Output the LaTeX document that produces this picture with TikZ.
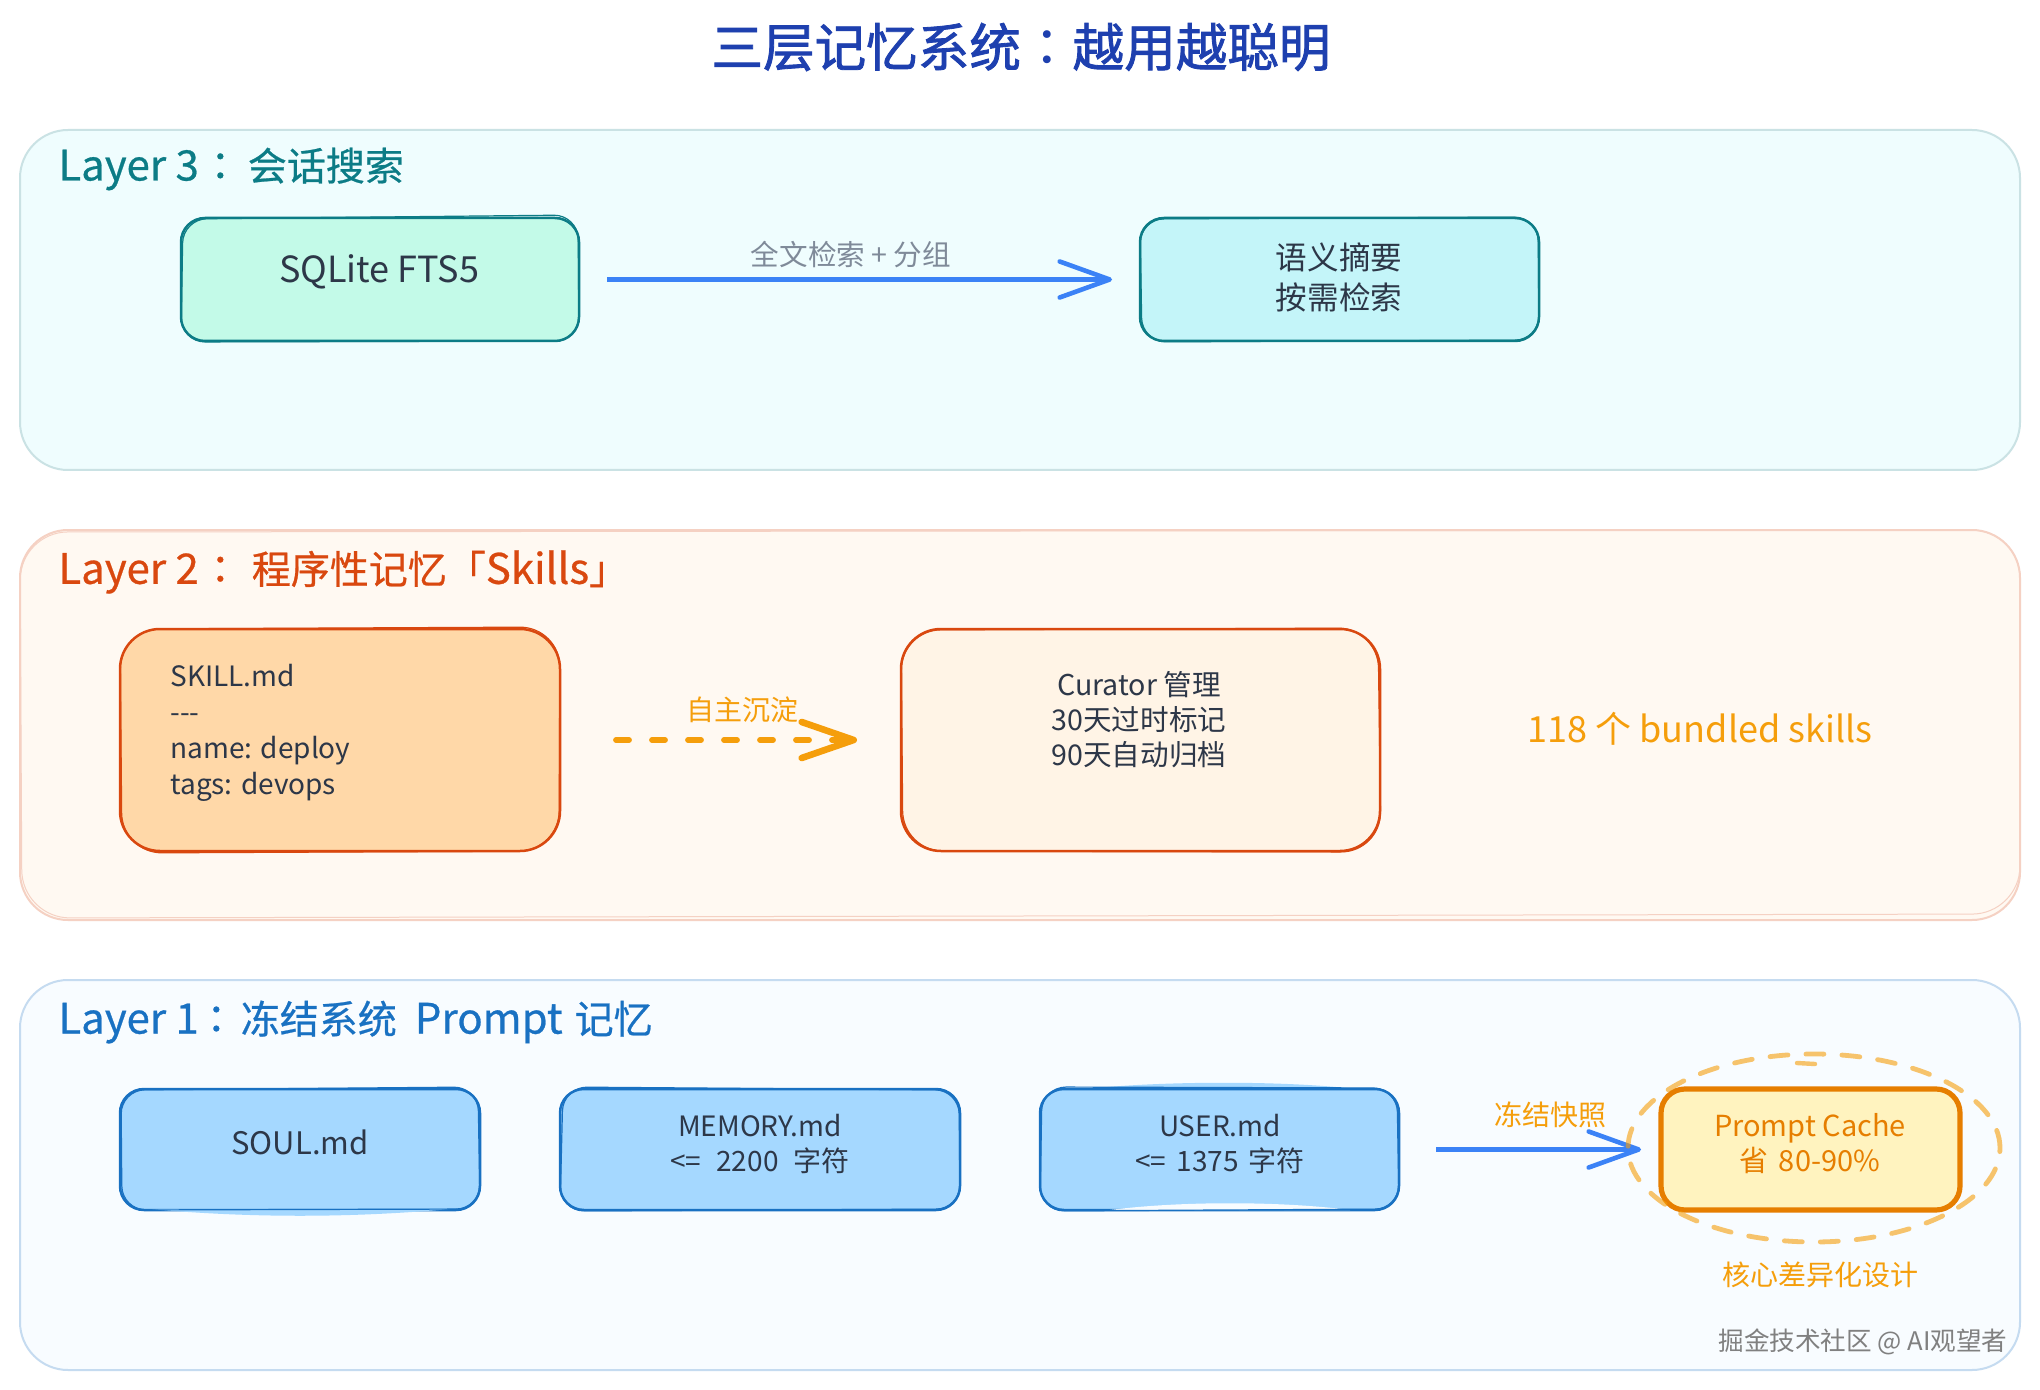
\documentclass[tikz,border=0pt]{standalone}
\usepackage{fontspec}
\usetikzlibrary{arrows.meta,shapes.geometric}
\newfontfamily\cjk{Noto Sans CJK SC}
\newfontfamily\cjkfb[FakeBold=1.6]{Noto Sans CJK SC}
\newfontfamily\cjkhd[FakeBold=0.6]{Noto Sans CJK SC}
\newfontfamily\cjktc{Noto Sans CJK TC}
\newfontfamily\cjktchd[FakeBold=0.6]{Noto Sans CJK TC}
\newcommand\hcln{{\cjktchd ：}}
\newcommand\lat[1]{{\fontsize{21}{23}\selectfont #1}}
\definecolor{ink}{HTML}{2D3748}
\definecolor{titleC}{HTML}{1E40AF}
\definecolor{tealS}{HTML}{0C7C86}
\definecolor{orgS}{HTML}{D9480F}
\definecolor{bluS}{HTML}{1971C2}
\definecolor{arrB}{HTML}{3B82F6}
\definecolor{amb}{HTML}{F59E0B}
\definecolor{pcS}{HTML}{E67E00}
\definecolor{skyF}{HTML}{A5D8FF}
\definecolor{mintF}{HTML}{C3FAE8}
\definecolor{cyanF}{HTML}{C4F5F9}
\definecolor{peachF}{HTML}{FFD8A8}
\definecolor{creamF}{HTML}{FFF4E6}
\definecolor{pcF}{HTML}{FFF3BF}
\definecolor{p3F}{HTML}{EFFDFE}
\definecolor{p2F}{HTML}{FFF9F2}
\definecolor{p1F}{HTML}{F8FCFF}
\definecolor{labG}{HTML}{7F8A99}
\definecolor{wmG}{HTML}{808080}
\tikzset{
  x=0.5pt,y=-0.5pt,
  panel/.style={rounded corners=24pt,line width=1pt,inner sep=0,outer sep=0},
  box/.style={rectangle,rounded corners=12pt,line width=1.25pt,inner sep=0,outer sep=0},
  bigbox/.style={box,rounded corners=20pt},
  edge2/.style={rounded corners=12pt,line width=.6pt},
  body/.style={font=\cjk\fontsize{14}{17.5}\selectfont,text=ink,align=center,inner sep=0},
  head/.style={font=\cjkhd\fontsize{19.5}{23}\selectfont,anchor=west,inner sep=0},
  lab/.style={font=\cjk\fontsize{14}{17}\selectfont,inner sep=0},
  shaft/.style={line width=2.7pt,arrB},
  flow/.style={shaft,-{Straight Barb[length=25pt,width=18pt,line width=2.3pt,round]}},
  dflow/.style={line width=2.9pt,amb,line cap=round,dash pattern=on 6.5pt off 11.5pt,
     -{Straight Barb[length=26pt,width=18pt,line width=3.3pt,round]}},
}
\newcommand\rr[5]{\draw[#1] (#2) -- (#3) -- (#4) -- (#5) -- cycle;}
\begin{document}
\begin{tikzpicture}
\useasboundingbox[fill=white] (0,0) rectangle (2040,1390);

\node[font=\cjkfb\fontsize{25.8}{30}\selectfont,text=titleC,inner sep=0] (title) at (1021,47) {三层记忆系统{\cjktc ：}越用越聪明};

% ---- Layer 3
\node[panel,draw=tealS!22!white,fill=p3F,minimum width=1000pt,minimum height=170pt] (p3) at (1020,300) {};
\node[head,text=tealS] (h3) at (58,169) {\lat{Layer 3}\hspace{1pt}\hcln\hspace{4pt}会话搜索};

\node[box,draw=tealS,fill=mintF,minimum width=199pt,minimum height=61.5pt] (sql) at (380,279.5) {};
\rr{edge2,draw=tealS}{183,219}{578,215}{579,341}{181,342}
\node[body,font=\cjk\fontsize{18}{21}\selectfont] (sqlt) at (379,272) {SQLite FTS5};

\node[box,draw=tealS,fill=cyanF,minimum width=199.5pt,minimum height=61.5pt] (sem) at (1339.5,279.5) {};
\rr{edge2,draw=tealS}{1140,219}{1538,217}{1539,340}{1142,342}
\node[body,font=\cjk\fontsize{15.8}{20}\selectfont] (semt) at (1339,277) {语义摘要\\按需检索};

\draw[shaft,shorten <=14pt,shorten >=36pt,yshift=-1.2pt] (sql.east) -- (sem.west);
\draw[flow,shorten <=14pt,shorten >=14pt] (sql.east) -- (sem.west);
\node[lab,text=labG,font=\cjk\fontsize{14.3}{17}\selectfont] (l3a) at (851,255) {全文检索 + 分组};

% ---- Layer 2
\node[panel,draw=orgS!25!white,fill=p2F,minimum width=1000pt,minimum height=195pt] (p2) at (1020,725) {};
\rr{edge2,rounded corners=24pt,line width=.5pt,draw=orgS!25!white}{20,532}{2020,530}{2020,914}{22,918}
\node[head,text=orgS] (h2) at (58,572) {\lat{Layer 2}\hspace{1pt}\hcln\hspace{6pt}程序性记忆「\lat{Skills}」};

\node[bigbox,draw=orgS,fill=peachF,minimum width=220pt,minimum height=111pt] (skill) at (340,740) {};
\rr{edge2,rounded corners=20pt,draw=orgS}{120,629}{560,627}{559,851}{122,853}
\node[body,align=left,anchor=west,font=\cjk\fontsize{14}{18}\selectfont] (skillt) at (170,732.5) {SKILL.md\\---\\name: deploy\\tags: devops};

\node[bigbox,draw=orgS,fill=creamF,minimum width=239.5pt,minimum height=111pt] (cur) at (1140.5,740) {};
\rr{edge2,rounded corners=20pt,draw=orgS}{901,630}{1378,628}{1381,852}{903,851}
\node[body,font=\cjk\fontsize{14.3}{17.5}\selectfont] (curt) at (1139,720) {Curator 管理\\30天过时标记\\90天自动归档};

\draw[dflow,shorten <=28pt,shorten >=22pt,yshift=1pt] (skill.east) -- (cur.west);
\node[lab,text=amb] (l2a) at (742,710) {自主沉淀};
\node[font=\cjk\fontsize{18}{22}\selectfont,text=amb,inner sep=0] (n118) at (1700,729) {118 个 bundled skills};

% ---- Layer 1
\node[panel,draw=bluS!25!white,fill=p1F,minimum width=1000pt,minimum height=195pt] (p1) at (1020,1175) {};
\node[head,text=bluS] (h1) at (58,1022) {\lat{Layer 1}\hspace{-1pt}\hcln\hspace{2.5pt}冻结系统\hspace{9pt}\lat{Prompt}\hspace{6pt}记忆};

\node[box,draw=bluS,fill=skyF,minimum width=180pt,minimum height=60.5pt] (soul) at (300,1149.5) {};
\fill[fill=skyF] (150,1209) .. controls (250,1218) and (350,1218) .. (450,1209) -- cycle;
\rr{edge2,draw=bluS}{121,1090}{478,1087}{480,1209}{122,1210}
\node[body,font=\cjk\fontsize{15.5}{18}\selectfont] (soult) at (300,1142) {SOUL.md};

\node[box,draw=bluS,fill=skyF,minimum width=200pt,minimum height=60.5pt] (mem) at (760,1149.5) {};
\rr{edge2,draw=bluS}{563,1087}{959,1090}{960,1209}{560,1211}
\node[body] (memt) at (760,1143.5) {MEMORY.md\\<=\hspace{7.5pt}2200\hspace{7.5pt}字符};

\fill[fill=skyF] (1070,1091) .. controls (1150,1080) and (1300,1080) .. (1370,1091) -- cycle;
\node[box,draw=bluS,fill=skyF,minimum width=179.5pt,minimum height=60.5pt] (user) at (1219.5,1149.5) {};
\fill[fill=p1F] (1110,1210) .. controls (1180,1201) and (1280,1201) .. (1350,1210) -- cycle;
\rr{edge2,draw=bluS}{1042,1087}{1397,1088}{1399,1209}{1040,1211}
\node[body] (usert) at (1220,1143.5) {USER.md\\<=\hspace{5pt}1375\hspace{5pt}字符};

\node[box,line width=2.6pt,draw=pcS,fill=pcF,minimum width=149.5pt,minimum height=60.5pt] (pc) at (1810.5,1149.5) {};
\node[body,text=pcS,font=\cjk\fontsize{14.5}{17.5}\selectfont] (pct) at (1810,1143.5) {Prompt Cache\\省\hspace{5pt}80-90\%};

\draw[shaft,shorten <=18.5pt,shorten >=40pt,yshift=0pt] (user.east) -- (pc.west);
\draw[flow,shorten <=18.5pt,shorten >=10pt,yshift=1pt] (user.east) -- (pc.west);
\node[lab,text=amb] (l1a) at (1550,1115) {冻结快照};

\node[ellipse,draw=amb,draw opacity=.6,line width=2.4pt,dash pattern=on 9pt off 9pt,line cap=round,minimum width=186pt,minimum height=94pt,inner sep=0] (halo) at (1814,1148) {};
\draw[amb,draw opacity=.6,line width=2.2pt,line cap=round] (1797,1063) -- (1815,1064);
\node[lab,text=amb] (l1b) at (1820,1275) {核心差异化设计};
\node[font=\cjk\fontsize{12.8}{16}\selectfont,text=wmG,inner sep=0] (wm) at (1863,1342) {掘金技术社区 @ AI观望者};
\end{tikzpicture}
\end{document}
